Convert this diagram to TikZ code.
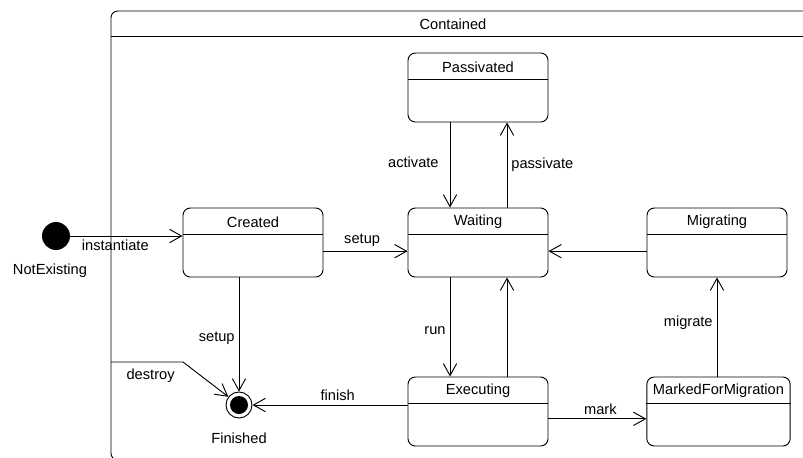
\documentclass[tikz,border=0pt]{standalone}
\usepackage{fontspec}
\setmainfont{Liberation Sans}
\usetikzlibrary{arrows.meta}
\tikzset{
	state/.style={draw, rounded corners=2.2mm, minimum width=42mm, minimum height=20.7mm, inner sep=0pt},
	title/.style={anchor=center, yshift=-4.35mm},
	trans/.style={-{Straight Barb[length=3.6mm,width=4mm]}},
	initial/.style={circle, fill, minimum size=8.4mm, inner sep=0pt},
	final/.style={circle, draw, minimum size=7.8mm, inner sep=0pt},
}

\begin{document}
\begin{tikzpicture}[x=0.3mm, y=-0.3mm, line width=0.8pt, font=\fontsize{12.5}{15}\selectfont]
	\useasboundingbox (0,0) rectangle (803,457);
	\clip (0,0) rectangle (803,457);

	% composite state
	\node[draw, rounded corners=2mm, minimum width=212.7mm, minimum height=134.7mm,
		label={[anchor=center, xshift=-3.75mm, yshift=-4.2mm]north:Contained}] (contained) at (465.5,235.5) {};
	\draw ([yshift=-7.8mm]contained.north west) -- ([yshift=-7.8mm]contained.north east);

	% states
	\node[state, label={[title]north:Created}] (created) at (253,242.5) {};
	\node[state, label={[title]north:Passivated}] (passivated) at (478,87.5) {};
	\node[state, label={[title]north:Waiting}] (waiting) at (478,242.5) {};
	\node[state, label={[title]north:Migrating}] (migrating) at (717,242.5) {};
	\node[state, label={[title]north:Executing}] (executing) at (478,411.5) {};
	\node[state, minimum width=43mm, label={[title]north:MarkedForMigration}] (marked) at (718.5,411.5) {};

	\foreach \s in {created,passivated,waiting,migrating,executing,marked}
		\draw ([yshift=-8.1mm]\s.north west) -- ([yshift=-8.1mm]\s.north east);

	% pseudo states
	\node[initial, label={[label distance=2.7mm, xshift=-1.8mm]below:NotExisting}] (notex) at (56,236) {};
	\node[final, label={[label distance=3mm]below:Finished}] (fin) at (239,405) {};
	\fill (fin) circle[radius=2.7mm];

	\coordinate (dstart) at (111,362);
	\coordinate (dbend) at (183,362);

	% transitions
	\draw[trans] (notex) -- (notex -| created.west) node[pos=0.4, below] {instantiate};
	\draw[trans] ([yshift=-2.6mm]created.east) -- ([yshift=-2.6mm]created.east -| waiting.west) node[pos=0.46, above] {setup};
	\draw[trans] (created.south -| fin) -- (fin) node[pos=0.53, left] {setup};
	\draw[trans] (dstart) -- node[pos=0.55, below=2pt] {destroy} (dbend) -- (fin);
	\draw[trans] ([xshift=-8.4mm]passivated.south) -- ([xshift=-8.4mm]waiting.north) node[pos=0.47, left=2.1mm] {activate};
	\draw[trans] ([xshift=8.7mm]waiting.north) -- ([xshift=8.7mm]passivated.south) node[pos=0.5, right] {passivate};
	\draw[trans] ([xshift=-8.4mm]waiting.south) -- ([xshift=-8.4mm]executing.north) node[pos=0.54, left] {run};
	\draw[trans] ([xshift=8.7mm]executing.north) -- ([xshift=8.7mm]waiting.south);
	\draw[trans] ([yshift=-2.6mm]migrating.west) -- ([yshift=-2.6mm]migrating.west -| waiting.east);
	\draw[trans] (marked.north -| migrating.south) -- (migrating.south) node[pos=0.54, left] {migrate};
	\draw[trans] ([yshift=-2.2mm]executing.east) -- ([yshift=-2.2mm]executing.east -| marked.west) node[pos=0.53, above] {mark};
	\draw[trans] (executing.west |- fin) -- (fin) node[pos=0.45, above] {finish};
\end{tikzpicture}
\end{document}
